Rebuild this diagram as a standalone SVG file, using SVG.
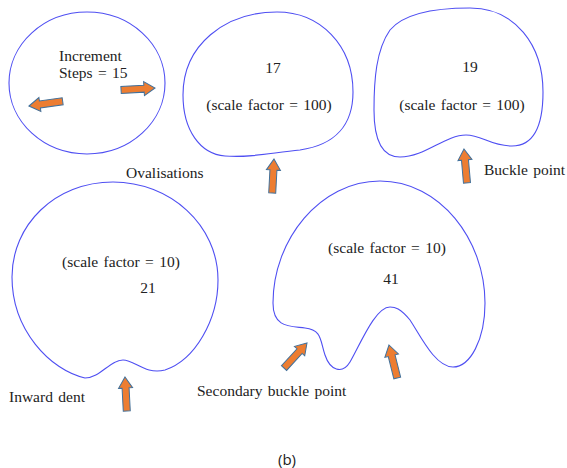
<svg xmlns="http://www.w3.org/2000/svg" xmlns:xlink="http://www.w3.org/1999/xlink" width="567" height="468" viewBox="0 0 567 468">
<style>
.shape{fill:none;stroke:#4f4ff2;stroke-width:1.1}
.lbl{font-family:"Liberation Serif","DejaVu Serif",serif;font-size:15.5px;fill:#222;word-spacing:1.5px}
.mid{text-anchor:middle}
.arr{fill:#ED7D31;stroke:#41719C;stroke-width:1}
.cap{font-family:"Open Sans","Noto Sans",sans-serif;font-size:15px;fill:#222;text-anchor:middle}
</style>
<defs>
<polygon id="arrow" class="arr" points="0,0 7,11 3.5,11 3.5,34 -3.5,34 -3.5,11 -7,11"/>
</defs>
<rect width="567" height="468" fill="#fff"/>
<g id="node-15">
<ellipse class="shape" cx="87" cy="83" rx="78" ry="71"/>
<text class="lbl" x="59" y="61">Increment</text>
<text class="lbl" x="59" y="78">Steps = 15</text>
</g>
<g id="node-17">
<path class="shape" d="M277 12 C320 12 353 45 353 92 C353 125 335 145 300 150 C270 153 250 158 225 156 C200 154 183 130 183 95 C183 45 225 12 277 12 Z"/>
<text class="lbl mid" x="273" y="73">17</text>
<text class="lbl mid" x="269" y="110">(scale factor = 100)</text>
</g>
<g id="node-19">
<path class="shape" d="M470 8 C515 8 543 45 543 92 C543 125 535 146 512 146 C490 146 482 135 466 135 C445 135 425 157 400 157 C380 157 374 135 374 110 C374 80 376 50 390 30 C405 12 440 8 470 8 Z"/>
<text class="lbl mid" x="470" y="72">19</text>
<text class="lbl mid" x="462" y="110">(scale factor = 100)</text>
</g>
<g id="node-21">
<path class="shape" d="M113 182 C170 182 218 225 218 280 C218 320 195 360 165 370 C145 375 135 360 123 360 C110 360 100 378 85 378 C50 370 12 330 12 277 C12 225 55 182 113 182 Z"/>
<text class="lbl mid" x="121" y="267">(scale factor = 10)</text>
<text class="lbl mid" x="148" y="293">21</text>
</g>
<g id="node-41">
<path class="shape" d="M380 181 C440 181 485 240 485 303 C485 340 470 367 453 367 C435 367 420 335 410 320 C400 308 395 307 390 307 C375 307 360 345 350 362 C342 375 330 370 325 355 C320 340 322 330 305 328 C290 326 273 328 273 303 C273 240 320 181 380 181 Z"/>
<text class="lbl mid" x="387" y="253">(scale factor = 10)</text>
<text class="lbl mid" x="391" y="284">41</text>
</g>
<g id="connectors">
<use xlink:href="#arrow" transform="translate(155,88) rotate(86.6)"/>
<use xlink:href="#arrow" transform="translate(29,106) rotate(-98)"/>
<use xlink:href="#arrow" transform="translate(274,159) rotate(3)"/>
<use xlink:href="#arrow" transform="translate(464,149) rotate(-5)"/>
<use xlink:href="#arrow" transform="translate(125,377) rotate(-3)"/>
<use xlink:href="#arrow" transform="translate(307,343) rotate(42.5)"/>
<use xlink:href="#arrow" transform="translate(389,345) rotate(-14)"/>
</g>
<g id="labels">
<text class="lbl" x="126" y="178">Ovalisations</text>
<text class="lbl" x="484" y="175">Buckle point</text>
<text class="lbl" x="9" y="402">Inward dent</text>
<text class="lbl" x="197" y="396">Secondary buckle point</text>
<text class="cap" x="287" y="465">(b)</text>
</g>
</svg>
